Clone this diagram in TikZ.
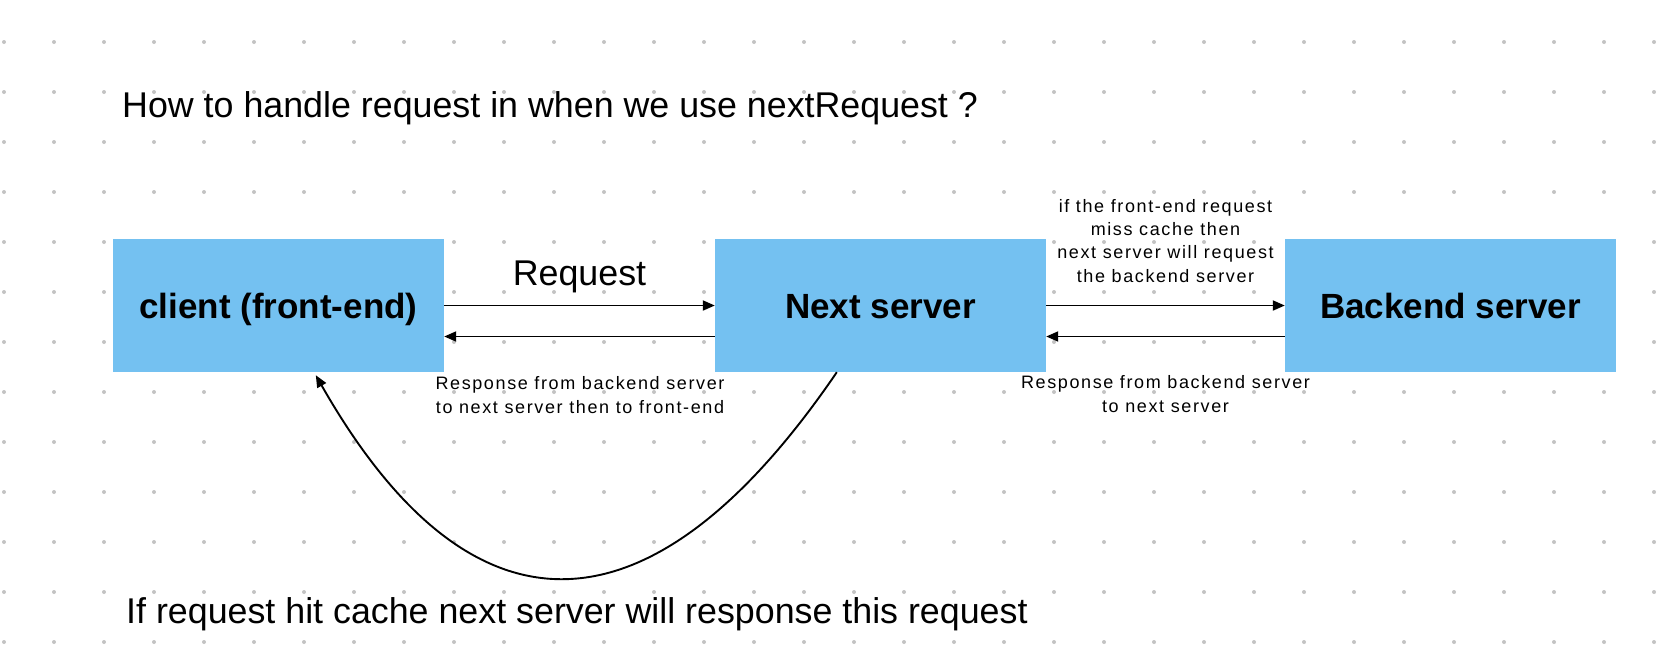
\documentclass[tikz,border=0pt]{standalone}
\usepackage{fontspec}
\setmainfont{Liberation Sans}
\newfontfamily\smallfont[LetterSpace=9]{Liberation Sans}
\usepackage{tikz}
\usetikzlibrary{arrows.meta}
\usetikzlibrary{calc}
\definecolor{boxblue}{RGB}{116,193,241}
\definecolor{dotgray}{RGB}{195,195,195}
\tikzstyle{srvblk}=[rectangle, fill=boxblue,% flat blue box, no border
minimum width=331pt, minimum height=133pt, inner sep=0pt, text height=25pt, text depth=0pt,
font=\fontsize{35pt}{42pt}\selectfont\bfseries]
\tikzstyle{dgraph}=[line width=1.9pt, -{Triangle[length=12pt,width=10pt]}]
\tikzstyle{bigtxt}=[inner sep=0pt, font=\fontsize{35.8pt}{42pt}\selectfont]
\tikzstyle{smalltxt}=[inner sep=0pt, align=center, font=\smallfont\fontsize{18pt}{23.3pt}\selectfont]

\begin{document}
\begin{tikzpicture}[x=1pt,y=-1pt]
\useasboundingbox[fill=white] (0,0) rectangle (1678,662);
% dotted background grid
\foreach \gx in {4,54,...,1654}
  \foreach \gy in {42,92,...,642}
    \fill[dotgray] (\gx,\gy) circle (2pt);

\node[srvblk] (client) at (278.5,305.5) {client (front-end)};
\node[srvblk] (next) at (880.5,305.5) {Next server};
\node[srvblk] (backend) at (1450.5,305.5) {Backend server};

\draw[dgraph] (client.east) -- (next.west);
\draw[dgraph] ([yshift=-31pt]next.west) -- ([yshift=-31pt]client.east);
\draw[dgraph] (next.east) -- (backend.west);
\draw[dgraph] ([yshift=-31pt]backend.west) -- ([yshift=-31pt]next.east);

% cache hit: answer goes straight back
\coordinate (hitstart) at ($(next.south west)+(122,0)$);
\coordinate (hitend) at ($(client.south west)+(203,3)$);
\draw[dgraph] (hitstart) .. controls (650,646) and (470,646) .. (hitend);

\node[bigtxt, anchor=base west] (title) at (122,117) {How to handle request in when we use nextRequest ?};
\node[bigtxt, anchor=base] (reqlbl) at (579.5,285) {Request};
\node[bigtxt, anchor=base west] (hitlbl) at (126,623) {If request hit cache next server will response this request};
\node[smalltxt, anchor=base] (misslbl) at (1165.5,282) {if the front-end request\\miss cache then\\next server will request\\the backend server};
\node[smalltxt, anchor=base] (resplbl) at (580,413) {Response from backend server\\to next server then to front-end};
\node[smalltxt, anchor=base] (backlbl) at (1165.5,412) {Response from backend server\\to next server};
\end{tikzpicture}
\end{document}
